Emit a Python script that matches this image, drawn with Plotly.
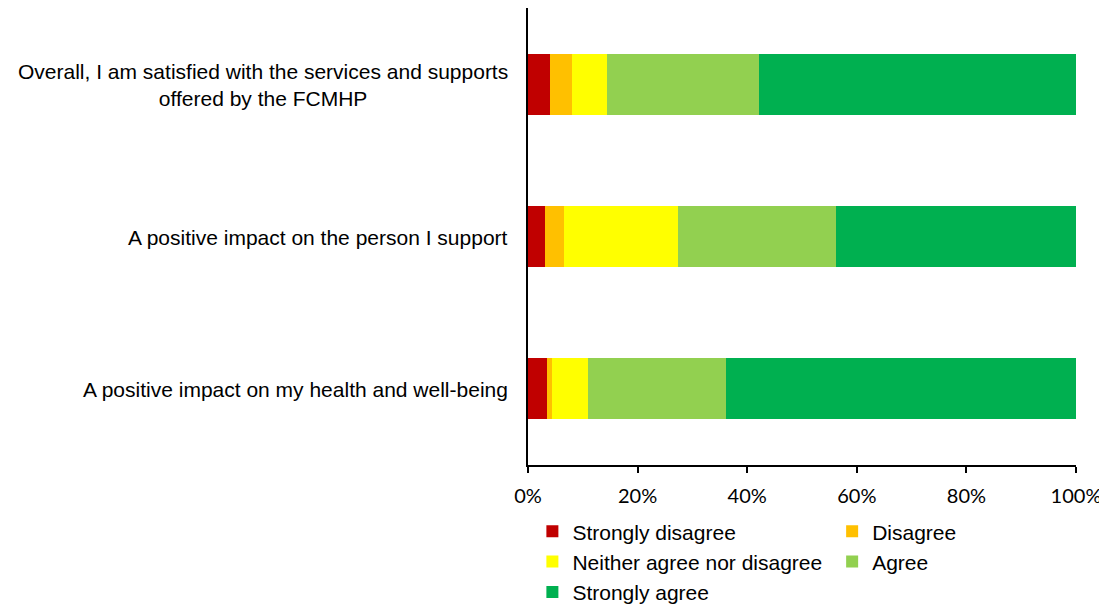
import plotly.graph_objects as go

categories = [
    "Overall, I am satisfied with the services and supports<br>offered by the FCMHP",
    "A positive impact on the person I support",
    "A positive impact on my health and well-being",
]
series_names = ["Strongly disagree", "Disagree", "Neither agree nor disagree", "Agree", "Strongly agree"]
strongly_disagree = [4.0, 3.1, 3.5]
disagree = [4.0, 3.5, 0.9]
neither = [6.4, 20.8, 6.5]
agree = [27.8, 28.8, 25.2]
strongly_agree = [57.8, 43.8, 63.9]
colors = ["#C00000", "#FFC000", "#FFFF00", "#92D050", "#00B050"]
legend_ids = ["legend", "legend2", "legend", "legend2", "legend"]
tick_vals = [0, 20, 40, 60, 80, 100]
tick_text = ["0%", "20%", "40%", "60%", "80%", "100%"]

values = [strongly_disagree, disagree, neither, agree, strongly_agree]
FONT = "Liberation Sans, Arial"

fig = go.Figure()
for name, vals, col, lg in zip(series_names, values, colors, legend_ids):
    fig.add_trace(go.Bar(
        y=categories, x=vals, name=name, orientation="h",
        marker=dict(color=col, line=dict(width=0)),
        legend=lg,
        hovertemplate="%{y}: %{x}%<extra>" + name + "</extra>",
    ))

for cat in categories:
    fig.add_annotation(
        x=0, xref="paper", y=cat, yref="y", text=cat, showarrow=False,
        xanchor="right", xshift=-18, yshift=-1, align="center",
        font=dict(family=FONT, size=21, color="black"),
    )

legend_common = dict(
    orientation="v", xanchor="left", yanchor="top", y=-0.101,
    font=dict(size=21, family=FONT, color="black"),
    traceorder="normal", itemwidth=30, bgcolor="rgba(0,0,0,0)",
)
# page body has an 8px margin, so the figure is sized/offset to compensate
fig.update_layout(
    barmode="stack",
    width=1099, height=599,
    margin=dict(l=520, r=31, t=0, b=142, autoexpand=False),
    plot_bgcolor="white", paper_bgcolor="white",
    bargap=0.6,
    font=dict(family=FONT, size=21, color="black"),
    showlegend=True,
    legend=dict(x=0.008, **legend_common),
    legend2=dict(x=0.555, **legend_common),
)
fig.update_xaxes(
    range=[0, 100], tickvals=tick_vals, ticktext=tick_text,
    showgrid=False, zeroline=False, automargin=False,
    showline=True, linecolor="black", linewidth=1.5,
    ticks="outside", ticklen=6, tickcolor="black", tickwidth=1.5,
    tickfont=dict(family="Lato, Liberation Sans", size=20, color="black"),
    ticklabelstandoff=6, ticklabeloverflow="allow",
)
fig.update_yaxes(
    autorange="reversed", showgrid=False, zeroline=False, automargin=False,
    showline=True, linecolor="black", linewidth=1.5,
    ticks="", showticklabels=False,
)

fig.write_html("out.html")
